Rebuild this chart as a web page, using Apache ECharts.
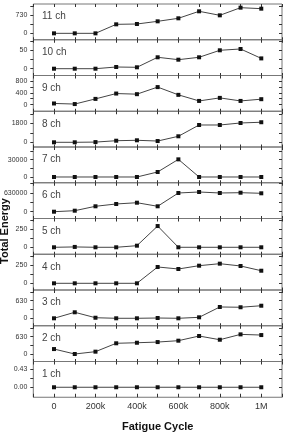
<!DOCTYPE html>
<html>
<head>
<meta charset="utf-8">
<script src="https://cdn.jsdelivr.net/npm/echarts@6/dist/echarts.min.js"></script>
<style>
  html, body { margin: 0; padding: 0; background: #fff; }
  #chart { width: 285px; height: 438px; }
</style>
</head>
<body>
<div id="chart"></div>
<script>
// fatigue cycles (x)
const cycles = [0, 100000, 200000, 300000, 400000, 500000, 600000, 700000, 800000, 900000, 1000000];

// total energy per channel
const ch1 = [0, 0, 0, 0, 0, 0, 0, 0, 0, 0, 0];
const ch2 = [180, 0, 85, 390, 410, 435, 485, 655, 520, 715, 690];
const ch3 = [0, 215, 20, 0, 0, 10, 0, 35, 405, 395, 450];
const ch4 = [0, 0, 0, 0, 0, 227, 199, 245, 273, 241, 175];
const ch5 = [0, 5, 0, 0, 22, 290, 0, 0, 0, 0, 0];
const ch6 = [0, 34000, 182000, 260000, 303000, 182000, 630000, 664000, 630000, 640000, 620000];
const ch7 = [0, 0, 0, 0, 0, 8700, 30600, 0, 0, 0, 0];
const ch8 = [0, 0, 20, 150, 190, 120, 570, 1640, 1640, 1830, 1900];
const ch9 = [40, 20, 195, 376, 355, 595, 332, 126, 229, 126, 185];
const ch10 = [0, 0, 0, 4.6, 3.8, 31, 24.5, 31, 50, 53.6, 28];
const ch11 = [0, 0, 0, 365, 378, 487, 609, 893, 730, 1040, 1000];

// y tick labels per panel
const yLabels11 = [0, 730];
const yLabels10 = [0, 50];
const yLabels9 = [0, 400, 800];
const yLabels8 = [0, 1800];
const yLabels7 = [0, 30000];
const yLabels6 = [0, 630000];
const yLabels5 = [0, 250];
const yLabels4 = [0, 250];
const yLabels3 = [0, 630];
const yLabels2 = [0, 630];
const yLabels1 = [0, 0.43];

// x tick labels
const xLabels = { 0: '0', 200000: '200k', 400000: '400k', 600000: '600k', 800000: '800k', 1000000: '1M' };

// panels top to bottom
const panels = [
  { name: '11 ch', data: ch11, labels: yLabels11, min: -260, max: 1189 },
  { name: '10 ch', data: ch10, labels: yLabels10, min: -18.5, max: 78.7 },
  { name: '9 ch', data: ch9, labels: yLabels9, min: -224, max: 988 },
  { name: '8 ch', data: ch8, labels: yLabels8, min: -445, max: 2941 },
  { name: '7 ch', data: ch7, labels: yLabels7, min: -9970, max: 52000 },
  { name: '6 ch', data: ch6, labels: yLabels6, min: -229000, max: 975000 },
  { name: '5 ch', data: ch5, labels: yLabels5, min: -95, max: 393 },
  { name: '4 ch', data: ch4, labels: yLabels4, min: -93, max: 404 },
  { name: '3 ch', data: ch3, labels: yLabels3, min: -267, max: 1013 },
  { name: '2 ch', data: ch2, labels: yLabels2, min: -273, max: 1029 },
  { name: '1 ch', data: ch1, labels: yLabels1, min: -0.235, max: 0.606 },
];

const TOP = 4;
const PANEL_H = 35.75;
const LEFT = 33.3;
const RIGHT = 3;
const textFont = '"Liberation Sans", Arial, sans-serif';

// half steps between the labelled values give the minor ticks
function tickValues(labels, max) {
  const step = labels[1] / 2;
  const out = [];
  for (let v = 0; v <= max + 1e-9; v += step) out.push(v);
  return out;
}

const grid = [];
const xAxis = [];
const yAxis = [];
const series = [];
const graphic = [];

panels.forEach((p, i) => {
  const top = TOP + i * PANEL_H;
  const last = i === panels.length - 1;
  const ticks = tickValues(p.labels, p.max);

  grid.push({
    left: LEFT,
    right: RIGHT,
    top: top,
    height: PANEL_H,
    show: true,
    borderColor: '#777',
    borderWidth: 1,
  });

  // bottom x axis
  xAxis.push({
    type: 'value',
    gridIndex: i,
    min: -100000,
    max: 1100000,
    interval: 100000,
    axisLine: { show: false, onZero: false },
    splitLine: { show: false },
    axisTick: { show: true, inside: true, length: last ? 3.5 : 2.5, lineStyle: { color: '#333' } },
    axisLabel: {
      show: last,
      margin: 5,
      fontSize: 9,
      fontFamily: textFont,
      color: '#333',
      formatter: (v) => xLabels[v] || '',
    },
  });
  // top x axis (ticks only)
  xAxis.push({
    type: 'value',
    gridIndex: i,
    position: 'top',
    min: -100000,
    max: 1100000,
    interval: 100000,
    axisLine: { show: false, onZero: false },
    splitLine: { show: false },
    axisTick: { show: true, inside: true, length: 3, lineStyle: { color: '#333' } },
    axisLabel: { show: false },
  });

  // left y axis
  yAxis.push({
    type: 'value',
    gridIndex: i,
    min: p.min,
    max: p.max,
    axisLine: { show: false, onZero: false },
    splitLine: { show: false },
    axisTick: { show: true, length: 3, customValues: ticks, lineStyle: { color: '#333' } },
    axisLabel: {
      customValues: p.labels,
      margin: 6,
      fontSize: 7,
      fontFamily: textFont,
      color: '#333',
      formatter: (v) => (last ? v.toFixed(2) : String(v)),
    },
  });
  // right y axis (ticks only)
  yAxis.push({
    type: 'value',
    gridIndex: i,
    position: 'right',
    min: p.min,
    max: p.max,
    axisLine: { show: false, onZero: false },
    splitLine: { show: false },
    axisTick: { show: true, inside: true, length: 3, customValues: ticks, lineStyle: { color: '#333' } },
    axisLabel: { show: false },
  });

  series.push({
    name: p.name,
    type: 'line',
    xAxisIndex: i * 2,
    yAxisIndex: i * 2,
    data: cycles.map((c, j) => [c, p.data[j]]),
    symbol: 'rect',
    symbolSize: 4,
    showAllSymbol: true,
    itemStyle: { color: '#111' },
    lineStyle: { color: '#444', width: 1 },
    animation: false,
  });

  graphic.push({
    type: 'text',
    left: 42,
    top: top + 7.5,
    style: { text: p.name, fontSize: 10, fontFamily: textFont, fill: '#444' },
  });
});

graphic.push({
  type: 'text',
  x: 5,
  y: 231,
  rotation: Math.PI / 2,
  style: {
    text: 'Total Energy',
    fontSize: 11,
    fontWeight: 'bold',
    fontFamily: textFont,
    fill: '#111',
    align: 'center',
    verticalAlign: 'middle',
  },
});
graphic.push({
  type: 'text',
  x: 157.7,
  y: 427,
  style: {
    text: 'Fatigue Cycle',
    fontSize: 11,
    fontWeight: 'bold',
    fontFamily: textFont,
    fill: '#111',
    align: 'center',
    verticalAlign: 'middle',
  },
});

const chart = echarts.init(document.getElementById('chart'));
chart.setOption({
  animation: false,
  grid,
  xAxis,
  yAxis,
  series,
  graphic,
});
</script>
</body>
</html>
